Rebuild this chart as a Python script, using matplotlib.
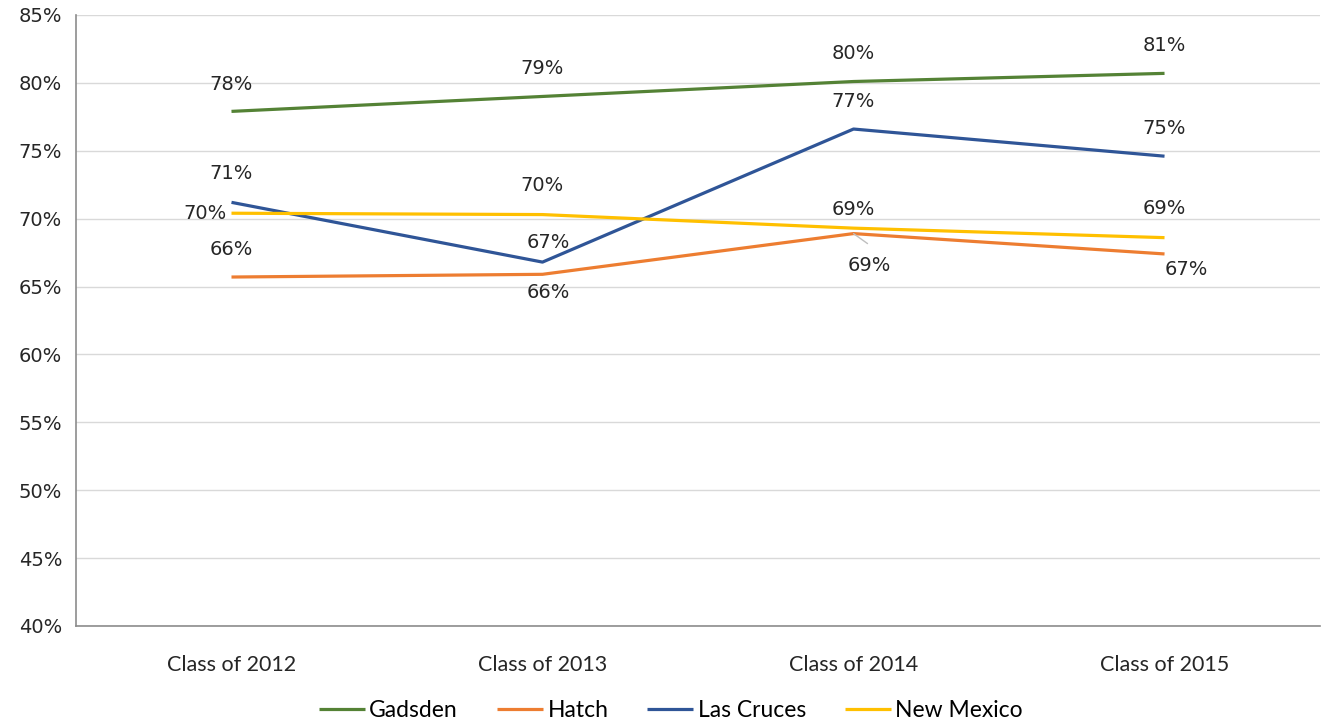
import matplotlib
matplotlib.use("Agg")
import matplotlib.pyplot as plt

categories = ["Class of 2012", "Class of 2013", "Class of 2014", "Class of 2015"]
gadsden = [77.9, 79.0, 80.1, 80.7]
hatch = [65.7, 65.9, 68.9, 67.4]
las_cruces = [71.2, 66.8, 76.6, 74.6]
new_mexico = [70.4, 70.3, 69.3, 68.6]
yticks = [40, 45, 50, 55, 60, 65, 70, 75, 80, 85]

series = [
    ("Gadsden", gadsden, "#548235"),
    ("Hatch", hatch, "#ED7D31"),
    ("Las Cruces", las_cruces, "#2F5597"),
    ("New Mexico", new_mexico, "#FFC000"),
]

# label offsets in pixels (dx, dy) per series per point
offsets = {
    "Gadsden": [(0, 27), (0, 28), (0, 28), (0, 28)],
    "Hatch": [(0, 28), (6, -18), (16, -32), (22, -16)],
    "Las Cruces": [(0, 29), (6, 20), (0, 28), (0, 28)],
    "New Mexico": [(-26, 0), (0, 29), (0, 19), (0, 29)],
}

fig = plt.figure(figsize=(13.26, 7.24), dpi=100)
ax = fig.add_axes([0.0573, 0.1354, 0.9382, 0.8439])

x = list(range(len(categories)))
handles = []
for name, vals, col in series:
    h, = ax.plot(x, vals, color=col, lw=2.3, solid_capstyle="butt", label=name, zorder=3)
    handles.append(h)
    for i, v in enumerate(vals):
        dx, dy = offsets[name][i]
        ax.annotate(f"{round(v):d}%", (i, v), xytext=(dx, dy), textcoords="offset pixels",
                    ha="center", va="center", fontsize=14, color="#262626",
                    family="DejaVu Sans", zorder=4)

# leader line for Hatch 2014 label
ax.annotate("", (2, hatch[2]), xytext=(14, -10), textcoords="offset pixels",
            arrowprops=dict(arrowstyle="-", color="#BFBFBF", lw=1, shrinkA=0, shrinkB=0))

ax.set_xlim(-0.5, len(categories) - 0.5)
ax.set_ylim(40, 85)
ax.set_yticks(yticks)
ax.set_yticklabels([f"{t}%" for t in yticks], fontsize=14, color="#262626", family="DejaVu Sans")
ax.set_xticks(x)
ax.set_xticklabels(categories, fontsize=15.5, color="#262626", family="Lato")
ax.tick_params(axis="both", length=0)
ax.tick_params(axis="x", pad=21)
ax.tick_params(axis="y", pad=10)
ax.grid(axis="y", color="#D9D9D9", lw=1)
ax.set_axisbelow(True)
for s in ["top", "right"]:
    ax.spines[s].set_visible(False)
for s in ["left", "bottom"]:
    ax.spines[s].set_color("#8C8C8C")
    ax.spines[s].set_linewidth(1.2)

fig.legend(handles=handles, loc="center", bbox_to_anchor=(0.506, 0.019), ncol=4, frameon=False,
           prop={"family": "Lato", "size": 16.5}, handlelength=2.0, handletextpad=0.2,
           columnspacing=1.7)

fig.savefig("out.png", dpi=100)
